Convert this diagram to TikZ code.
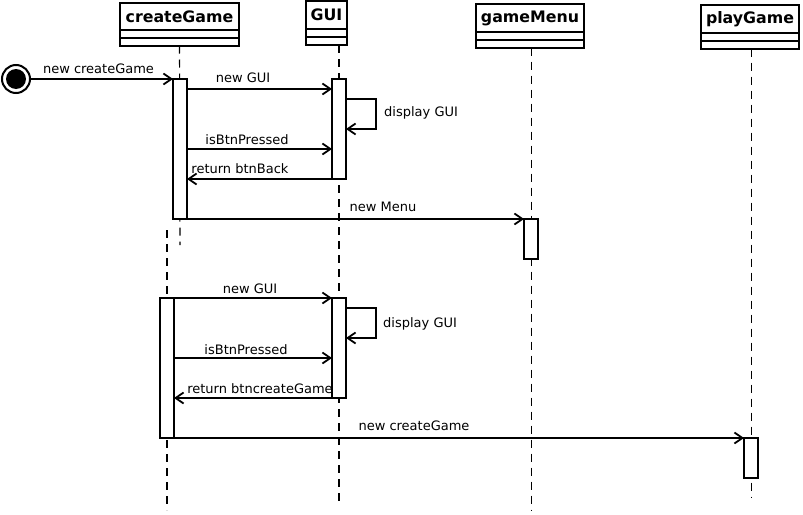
\documentclass[tikz,border=0pt]{standalone}
\usepackage{fontspec}
\setmainfont{DejaVu Sans}
\usetikzlibrary{arrows.meta,calc}
\begin{document}
\begin{tikzpicture}[x=1pt,y=-1pt,
  head/.style={draw,line width=2pt,inner sep=0pt,outer sep=0pt,anchor=north west,font=\bfseries\fontsize{15.8}{18}\selectfont},
  comp/.style={draw,line width=2pt},
  life/.style={line width=1.1pt,dash pattern=on 8pt off 6pt},
  act/.style={draw,fill=white,line width=2pt,inner sep=0pt,outer sep=0pt,minimum width=14pt},
  msg/.style={line width=2pt,-{Straight Barb[length=8pt,width=11pt,line width=1.8pt]}},
  lbl/.style={font=\fontsize{13}{15}\selectfont,inner sep=0pt}]
\useasboundingbox[fill=white] (0,0) rectangle (803,514);

% heads
\node[head,minimum width=119pt,minimum height=27pt] (hCG) at (120,3) {createGame};
\node[head,minimum width=41pt,minimum height=28pt] (hGUI) at (306,1) {GUI};
\node[head,minimum width=108pt,minimum height=28pt] (hGM) at (476,4) {gameMenu};
\node[head,minimum width=98pt,minimum height=28pt] (hPG) at (701,5) {playGame};
\foreach \h in {hCG,hGUI,hGM,hPG}{
  \draw[comp] (\h.south west) rectangle ([yshift=-8pt]\h.south east);
  \draw[comp] ([yshift=-8pt]\h.south west) rectangle ([yshift=-15.5pt]\h.south east);
}
\coordinate (cgB) at ([yshift=-15.5pt]hCG.south);
\coordinate (guiB) at (339,45);
\coordinate (gmB) at ([xshift=1.5pt,yshift=-15.5pt]hGM.south);
\coordinate (pgB) at ([xshift=1.5pt,yshift=-15.5pt]hPG.south);

% lifeline ends
\coordinate (cgE) at (180,245);
\coordinate (cg2S) at (167,230);
\coordinate (cg2E) at (167,510);
\coordinate (guiE) at (339,502);
\coordinate (gmE) at (531.5,510);
\coordinate (pgE) at (751.5,498);

\draw[life] (cgB) -- (cgE);
\draw[life] (cg2S) -- (cg2E);
\draw[life] (guiB) -- (guiE);
\draw[life] (gmB) -- (gmE);
\draw[life] (pgB) -- (pgE);

% activations
\node[act,minimum height=140pt] (A1) at (180,149) {};
\node[act,minimum height=100pt] (G1) at (339,129) {};
\node[act,minimum height=40pt] (M1) at (531,239) {};
\node[act,minimum height=140pt] (A2) at (167,368) {};
\node[act,minimum height=100pt] (G2) at (339,348) {};
\node[act,minimum height=40pt] (P1) at (751,458) {};

% initial state
\node[circle,draw,line width=2pt,minimum size=28pt,inner sep=0pt,outer sep=0pt] (init) at (16,79) {};
\fill (init.center) circle (10pt);

% messages
\draw[msg] (init.east) -- (A1.north west);
\node[lbl] at (98.5,69) {new createGame};

\draw[msg] ([yshift=-10pt]A1.north east) -- ([yshift=-10pt]G1.north west);
\node[lbl] at (243,78) {new GUI};

\draw[msg] ([yshift=-20pt]G1.north east) -- ++(30,0) -- ++(0,30) -- ([yshift=-50pt]G1.north east);
\node[lbl,anchor=west] at (384,113) {display GUI};

\draw[msg] ([yshift=-70pt]A1.north east) -- ([yshift=-70pt]G1.north west);
\node[lbl] at (247,140) {isBtnPressed};

\draw[msg] (G1.south west) -- ([yshift=-100pt]A1.north east);
\node[lbl] at (240,169) {return btnBack};

\draw[msg] (A1.south east) -- (M1.north west);
\node[lbl] at (383,207) {new Menu};

\draw[msg] (A2.north east) -- (G2.north west);
\node[lbl] at (250,289) {new GUI};

\draw[msg] ([yshift=-10pt]G2.north east) -- ++(30,0) -- ++(0,30) -- ([yshift=-40pt]G2.north east);
\node[lbl,anchor=west] at (383,324) {display GUI};

\draw[msg] ([yshift=-60pt]A2.north east) -- ([yshift=-60pt]G2.north west);
\node[lbl] at (246,350) {isBtnPressed};

\draw[msg] (G2.south west) -- ([yshift=-100pt]A2.north east);
\node[lbl] at (260,389) {return btncreateGame};

\draw[msg] (A2.south east) -- (P1.north west);
\node[lbl] at (414,426) {new createGame};
\end{tikzpicture}
\end{document}
